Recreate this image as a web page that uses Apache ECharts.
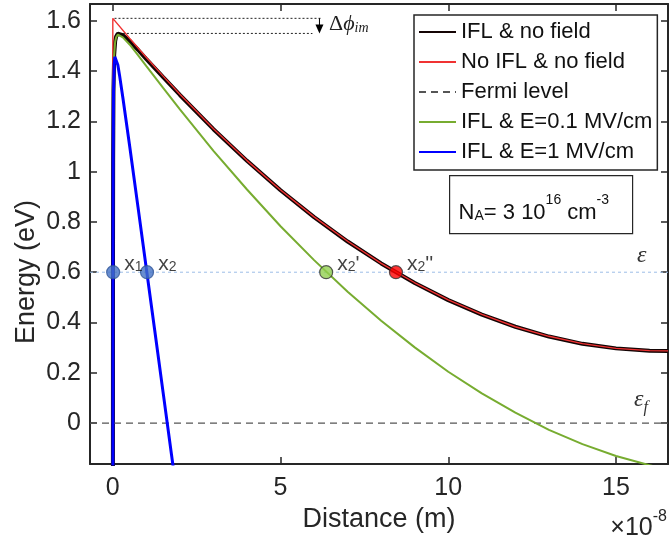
<!DOCTYPE html>
<html><head><meta charset="utf-8">
<script src="https://cdn.jsdelivr.net/npm/echarts@6/dist/echarts.min.js"></script>
<style>html,body{margin:0;padding:0;background:#fff}#c{width:669px;height:550px}</style>
</head><body><div id="c"></div>
<script>
// ---- data (distance in units of 1e-8 m, energy in eV) ----
const xTicks = [0, 5, 10, 15];
const yTicks = [0, 0.2, 0.4, 0.6, 0.8, 1, 1.2, 1.4, 1.6];

const xIFL = [0.002,0.004,0.006,0.01,0.02,0.04,0.07,0.1,0.15,0.2,0.3,0.5,0.75,1,1.5,2,3,4,5,6,7,8,9,10,11,12,13,14,15,16,16.55];
const eIFLnoField = [-1.19,0.209,0.676,1.048,1.327,1.464,1.519,1.538,1.549,1.550,1.543,1.520,1.485,1.448,1.376,1.305,1.169,1.043,0.926,0.819,0.722,0.635,0.557,0.489,0.431,0.383,0.344,0.315,0.297,0.288,0.287];
const eIFLlowField = [-1.19,0.209,0.676,1.048,1.326,1.462,1.517,1.535,1.545,1.544,1.534,1.506,1.464,1.420,1.333,1.248,1.083,0.929,0.783,0.648,0.522,0.407,0.301,0.204,0.118,0.041,-0.027,-0.084,-0.131,-0.168,-0.185];

const xNoIFL = [0,0,0.5,1,1.5,2,3,4,5,6,7,8,9,10,11,12,13,14,15,16,16.55];
const eNoIFL = [-0.2,1.61,1.531,1.454,1.380,1.308,1.171,1.044,0.927,0.820,0.723,0.635,0.558,0.490,0.432,0.383,0.345,0.316,0.297,0.288,0.287];

const xHigh = [0.002,0.004,0.006,0.01,0.02,0.04,0.06,0.075,0.1,0.15,0.2,0.3,0.5,0.75,1,1.25,1.5,1.75,2];
const eHighField = [-1.19,0.206,0.671,1.040,1.310,1.430,1.457,1.461,1.455,1.424,1.384,1.294,1.104,0.860,0.614,0.368,0.121,-0.126,-0.373];

const xRange = [-0.68, 16.55];
const yRange = [-0.163, 1.667];
const fermiE = 0;
const levelE = 0.6;
const crossX = [0.01, 1.02, 6.36, 8.44];
const crossSub = ['1', '2', '2', '2'];
const crossPrime = ['', '', "'", "''"];
const phiNoIFL = 1.61, phiIFL = 1.55;

// ---- chart ----
const FONT = 'Liberation Sans, Arial, sans-serif';
const SERIF = 'Liberation Serif, serif';
const AX = '#262626';
const pts = (xs, ys) => xs.map((x, i) => [x, ys[i]]);

const axisCommon = {
  type: 'value', min: xRange[0], max: xRange[1],
  axisLine: { show: true, onZero: false, lineStyle: { color: AX, width: 2 } },
  splitLine: { show: false }
};

const chart = echarts.init(document.getElementById('c'), null, { renderer: 'canvas' });
chart.setOption({
  animation: false,
  backgroundColor: '#fff',
  grid: { left: 90, top: 4, right: 1, bottom: 86, containLabel: false },
  xAxis: [
    Object.assign({}, axisCommon, {
      position: 'bottom',
      name: 'Distance (m)', nameLocation: 'middle', nameGap: 41,
      nameTextStyle: { fontSize: 27, fontFamily: FONT, color: AX },
      axisTick: { show: true, inside: true, length: 7, customValues: xTicks, lineStyle: { color: AX, width: 1.5 } },
      axisLabel: { customValues: xTicks, fontSize: 25, fontFamily: FONT, color: AX, margin: 12 }
    }),
    Object.assign({}, axisCommon, {
      position: 'top',
      axisTick: { show: true, inside: true, length: 7, customValues: xTicks, lineStyle: { color: AX, width: 1.5 } },
      axisLabel: { show: false }
    })
  ],
  yAxis: [
    {
      type: 'value', min: yRange[0], max: yRange[1], position: 'left',
      axisLine: { show: true, onZero: false, lineStyle: { color: AX, width: 2 } },
      splitLine: { show: false },
      axisTick: { show: true, inside: true, length: 7, customValues: yTicks, lineStyle: { color: AX, width: 1.5 } },
      axisLabel: { customValues: yTicks, fontSize: 25, fontFamily: FONT, color: AX, margin: 9 }
    },
    {
      type: 'value', min: yRange[0], max: yRange[1], position: 'right',
      axisLine: { show: true, onZero: false, lineStyle: { color: AX, width: 2 } },
      splitLine: { show: false },
      axisTick: { show: true, inside: true, length: 7, customValues: yTicks, lineStyle: { color: AX, width: 1.5 } },
      axisLabel: { show: false }
    }
  ],
  legend: {
    left: 414, top: 15, orient: 'vertical',
    padding: [6, 5, 7, 4], itemGap: 8, itemWidth: 37, itemHeight: 14,
    selectedMode: false,
    itemStyle: { opacity: 0 },
    backgroundColor: '#fff', borderColor: AX, borderWidth: 1.5, borderRadius: 0,
    textStyle: { fontSize: 22, fontFamily: FONT, color: '#111', lineHeight: 22 },
    data: ['IFL & no field', 'No IFL & no field', 'Fermi level', 'IFL & E=0.1 MV/cm', 'IFL & E=1 MV/cm']
  },
  series: [
    { name: 'level', type: 'line', data: [[xRange[0], levelE], [xRange[1], levelE]], symbol: 'none', silent: true, z: 1,
      lineStyle: { color: '#9dbde8', width: 1, type: [3, 3] } },
    { name: 'IFL & no field', type: 'line', data: pts(xIFL, eIFLnoField), symbol: 'none', z: 2,
      color: '#000', lineStyle: { color: '#140404', width: 4 } },
    { name: 'No IFL & no field', type: 'line', data: pts(xNoIFL, eNoIFL), symbol: 'none', z: 3,
      color: '#ff3b3b', lineStyle: { color: '#f03232', width: 1.4 } },
    { name: 'Fermi level', type: 'line', data: [[xRange[0], fermiE], [xRange[1], fermiE]], symbol: 'none', z: 2,
      color: '#555', lineStyle: { color: '#555', width: 1.3, type: [7, 5] } },
    { name: 'IFL & E=0.1 MV/cm', type: 'line', data: pts(xIFL, eIFLlowField), symbol: 'none', z: 4,
      color: '#77ac30', lineStyle: { color: '#77ac30', width: 2 } },
    { name: 'IFL & E=1 MV/cm', type: 'line', data: pts(xHigh, eHighField), symbol: 'none', z: 5,
      color: '#0000ff', lineStyle: { color: '#0000ff', width: 3 } },
    // barrier-lowering annotation
    { name: 'dot1', type: 'line', data: [[0.05, phiNoIFL], [6.25, phiNoIFL]], symbol: 'none', silent: true, z: 6,
      lineStyle: { color: '#222', width: 1, type: [2, 2] } },
    { name: 'dot2', type: 'line', data: [[0.3, phiIFL], [5.95, phiIFL]], symbol: 'none', silent: true, z: 6,
      lineStyle: { color: '#222', width: 1, type: [2, 2] } },
    { name: 'arrow', type: 'line', data: [[6.16, phiNoIFL], [6.16, phiIFL + 0.018]], silent: true, z: 6,
      showSymbol: true, symbol: (v, p) => p.dataIndex === 1 ? 'triangle' : 'none', symbolSize: [8, 9], symbolRotate: 180,
      color: '#000', itemStyle: { color: '#000' }, lineStyle: { color: '#000', width: 1 } },
    // crossing points
    { name: 'cross', type: 'scatter', z: 10, silent: true,
      data: crossX.map((x, i) => ({
        value: [x, levelE],
        itemStyle: { color: ['#4472c4', '#4472c4', '#92d050', '#ff0000'][i], borderColor: ['#2f5597', '#2f5597', '#333', '#333'][i], borderWidth: 1.2 },
        label: { formatter: '{a|x}{b|' + crossSub[i] + '}{a|' + crossPrime[i] + '}' }
      })),
      symbolSize: 13,
      label: { show: true, position: 'right', distance: 4, offset: [0, -9],
        rich: { a: { fontSize: 21, fontFamily: FONT, color: '#111', lineHeight: 22, verticalAlign: 'bottom' },
                b: { fontSize: 14, fontFamily: FONT, color: '#111', lineHeight: 13, verticalAlign: 'bottom' } } } }
  ],
  graphic: [
    { type: 'text', x: 27, y: 272, rotation: Math.PI / 2, style: {
      text: 'Energy (eV)', fontSize: 27, fontFamily: FONT, fill: AX, align: 'center', verticalAlign: 'middle' } },
    { type: 'group', left: 449, top: 175, children: [
      { type: 'rect', shape: { x: 0, y: 0, width: 183, height: 58 }, style: { fill: '#fff', stroke: AX, lineWidth: 1.2 } },
      { type: 'text', x: 9, y: 18, style: {
        text: '{m|N}{s|A}{m|= 3 10}{p|16}{m| cm}{p|-3}',
        rich: {
          m: { fontSize: 22, fontFamily: FONT, fill: '#111', lineHeight: 30, verticalAlign: 'bottom' },
          s: { fontSize: 14, fontFamily: FONT, fill: '#111', lineHeight: 14, verticalAlign: 'bottom' },
          p: { fontSize: 14, fontFamily: FONT, fill: '#111', lineHeight: 14, verticalAlign: 'top' }
        } } }
    ] },
    { type: 'text', right: 2, top: 509, style: {
      text: '{m|×10}{p|-8}',
      rich: {
        m: { fontSize: 25, fontFamily: FONT, fill: AX, lineHeight: 32, verticalAlign: 'bottom' },
        p: { fontSize: 16, fontFamily: FONT, fill: AX, lineHeight: 16, verticalAlign: 'top' }
      } } },
    { type: 'text', left: 329, top: 13, style: {
      text: '{m|Δ}{i|ϕ}{s|im}',
      rich: {
        m: { fontSize: 22, fontFamily: SERIF, fill: '#222', lineHeight: 28, verticalAlign: 'bottom' },
        i: { fontSize: 22, fontFamily: SERIF, fontStyle: 'italic', fill: '#222', lineHeight: 28, verticalAlign: 'bottom' },
        s: { fontSize: 14, fontFamily: SERIF, fontStyle: 'italic', fill: '#222', lineHeight: 14, verticalAlign: 'bottom' }
      } } },
    { type: 'text', left: 637, top: 244, style: { text: 'ε', fontSize: 24, fontFamily: SERIF, fontStyle: 'italic', fill: '#333' } },
    { type: 'text', left: 634, top: 388, style: {
      text: '{m|ε}{s|f}',
      rich: {
        m: { fontSize: 24, fontFamily: SERIF, fontStyle: 'italic', fill: '#333', lineHeight: 28, verticalAlign: 'top' },
        s: { fontSize: 16, fontFamily: SERIF, fontStyle: 'italic', fill: '#333', lineHeight: 16, verticalAlign: 'bottom' }
      } } }
  ]
});
</script>
</body></html>
